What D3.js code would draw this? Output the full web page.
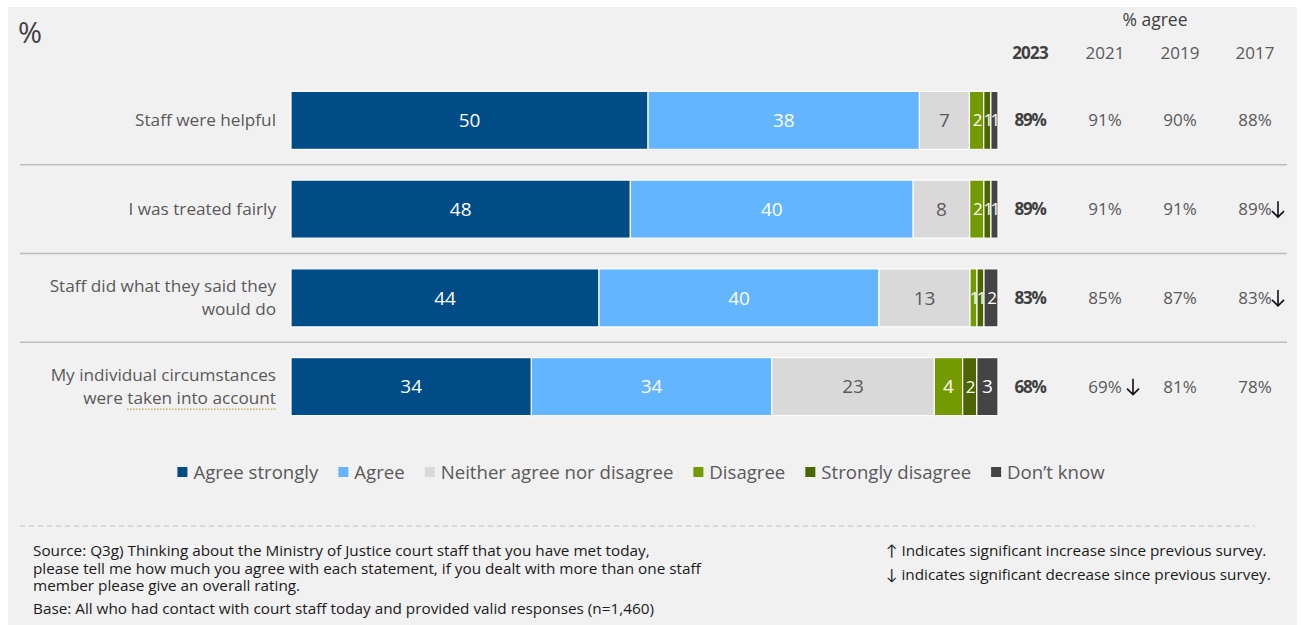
<!DOCTYPE html>
<html>
<head>
<meta charset="utf-8">
<script src="https://cdn.jsdelivr.net/npm/d3@7"></script>
<style>
  html, body { margin: 0; padding: 0; background: #ffffff; }
  svg { display: block; font-family: "Open Sans", Lato, sans-serif; }
</style>
</head>
<body>
<svg id="chart" width="1302" height="625"></svg>
<script>
// Statements and response shares (%)
const categories = [
  "Staff were helpful",
  "I was treated fairly",
  "Staff did what they said they would do",
  "My individual circumstances were taken into account"
];
const categoryLines = [
  ["Staff were helpful"],
  ["I was treated fairly"],
  ["Staff did what they said they", "would do"],
  ["My individual circumstances", "were taken into account"]
];
const seriesNames = ["Agree strongly", "Agree", "Neither agree nor disagree", "Disagree", "Strongly disagree", "Don\u2019t know"];
const agreeStrongly    = [50, 48, 44, 34];
const agree            = [38, 40, 40, 34];
const neither          = [7, 8, 13, 23];
const disagree         = [2, 2, 1, 4];
const stronglyDisagree = [1, 1, 1, 2];
const dontKnow         = [1, 1, 2, 3];

// % agree by survey year
const years = ["2023", "2021", "2019", "2017"];
const agree2023 = [89, 89, 83, 68];
const agree2021 = [91, 91, 85, 69];
const agree2019 = [90, 91, 87, 81];
const agree2017 = [88, 89, 83, 78];
// significance vs previous survey: "down", "up" or ""
const sig2021 = ["", "", "", "down"];
const sig2019 = ["", "", "", ""];
const sig2017 = ["", "down", "down", ""];

const colors = ["#004c87", "#63b5ff", "#d9d9d9", "#739b00", "#4b6500", "#444444"];
const labelColors = ["#ffffff", "#ffffff", "#595959", "#ffffff", "#ffffff", "#ffffff"];

const svg = d3.select("#chart");

// panel background
svg.append("rect").attr("x", 8).attr("y", 7).attr("width", 1289).attr("height", 618).attr("fill", "#f1f1f1");

svg.append("text").attr("x", 18).attr("y", 43).attr("font-size", 29).attr("fill", "#404040")
  .text("%");

const rows = categories.map((c, i) => ({
  category: c,
  [seriesNames[0]]: agreeStrongly[i],
  [seriesNames[1]]: agree[i],
  [seriesNames[2]]: neither[i],
  [seriesNames[3]]: disagree[i],
  [seriesNames[4]]: stronglyDisagree[i],
  [seriesNames[5]]: dontKnow[i]
}));

const stacked = d3.stack().keys(seriesNames).offset(d3.stackOffsetExpand)(rows);

const x = d3.scaleLinear().domain([0, 1]).range([291, 998]);
const y = d3.scaleBand().domain(categories).range([76, 431]).paddingInner(0.346).paddingOuter(0.173);
const color = d3.scaleOrdinal().domain(seriesNames).range(colors);

// row separators
categories.slice(0, -1).forEach(c => {
  const yy = y(c) + y.bandwidth() + (y.step() - y.bandwidth()) / 2;
  svg.append("line").attr("x1", 20).attr("x2", 1287).attr("y1", yy).attr("y2", yy)
    .attr("stroke", "#bdbdbd").attr("stroke-width", 1.5);
});

// stacked bars
const layer = svg.append("g").selectAll("g").data(stacked).join("g")
  .attr("fill", d => color(d.key));
layer.selectAll("rect").data(d => d.map(p => ({ p, key: d.key }))).join("rect")
  .attr("x", d => x(d.p[0]))
  .attr("y", d => y(d.p.data.category))
  .attr("width", d => x(d.p[1]) - x(d.p[0]))
  .attr("height", y.bandwidth())
  .attr("stroke", "#ffffff").attr("stroke-width", 1.2);

// value labels in segments
stacked.forEach((s, si) => {
  svg.append("g").selectAll("text").data(s).join("text")
    .attr("x", d => (x(d[0]) + x(d[1])) / 2)
    .attr("y", d => y(d.data.category) + y.bandwidth() / 2)
    .attr("dy", "0.35em")
    .attr("text-anchor", "middle")
    .attr("font-size", d => (d.data[s.key] <= 2 ? 17 : 19))
    .attr("letter-spacing", d => (d.data[s.key] <= 2 ? -2 : 0))
    .attr("fill", labelColors[si])
    .text(d => d.data[s.key]);
});

// category labels
categoryLines.forEach((lines, i) => {
  const cy = y(categories[i]) + y.bandwidth() / 2;
  const t = svg.append("text").attr("text-anchor", "end").attr("font-size", 17.2).attr("fill", "#595959");
  lines.forEach((ln, li) => {
    t.append("tspan").attr("x", 276)
      .attr("y", cy + (li - (lines.length - 1) / 2) * 23)
      .attr("dy", "0.35em").text(ln);
  });
});
// proofing underline beneath "taken into account"
{
  const cy = y(categories[3]) + y.bandwidth() / 2 + 11.5;
  svg.append("line").attr("x1", 127).attr("x2", 276).attr("y1", cy + 11).attr("y2", cy + 11)
    .attr("stroke", "#c9a04a").attr("stroke-width", 1.3).attr("stroke-dasharray", "1.5,1.5");
}

// % agree columns
const colX = d3.scalePoint().domain(years).range([1030, 1255]);
const yearValues = [agree2023, agree2021, agree2019, agree2017];
const yearSig = [null, sig2021, sig2019, sig2017];

svg.append("text").attr("x", 1155).attr("y", 20).attr("dy", "0.35em").attr("text-anchor", "middle")
  .attr("font-size", 17.5).attr("fill", "#404040").text("% agree");

years.forEach((yr, yi) => {
  svg.append("text").attr("x", colX(yr)).attr("y", 53).attr("dy", "0.35em").attr("text-anchor", "middle")
    .attr("font-size", 17).attr("font-weight", yi === 0 ? "bold" : "normal")
    .attr("letter-spacing", yi === 0 ? -0.8 : 0)
    .attr("fill", yi === 0 ? "#404040" : "#595959").text(yr);
  yearValues[yi].forEach((v, ci) => {
    const cy = y(categories[ci]) + y.bandwidth() / 2;
    svg.append("text").attr("x", colX(yr)).attr("y", cy).attr("dy", "0.35em").attr("text-anchor", "middle")
      .attr("font-size", 17).attr("font-weight", yi === 0 ? "bold" : "normal")
      .attr("letter-spacing", yi === 0 ? -1.2 : 0)
      .attr("fill", yi === 0 ? "#404040" : "#595959").text(v + "%");
    const sig = yearSig[yi] && yearSig[yi][ci];
    if (sig) {
      // thin arrow drawn as a path
      const ax = colX(yr) + (yi === 1 ? 28 : 23);
      const dir = sig === "down" ? 1 : -1;
      const top = cy - 8 * dir, tip = cy + 8 * dir;
      svg.append("path")
        .attr("d", `M${ax},${top}L${ax},${tip}M${ax - 6},${tip - 6 * dir}L${ax},${tip}L${ax + 6},${tip - 6 * dir}`)
        .attr("fill", "none").attr("stroke", "#111").attr("stroke-width", 1.6);
    }
  });
});

// legend
const legend = svg.append("g");
let lx = 0;
seriesNames.forEach((name, i) => {
  const g = legend.append("g").attr("transform", `translate(${lx},0)`);
  g.append("rect").attr("x", 0).attr("y", -5).attr("width", 10).attr("height", 10).attr("fill", colors[i]);
  const t = g.append("text").attr("x", 16).attr("y", 0).attr("dy", "0.35em")
    .attr("font-size", 18.6).attr("fill", "#595959").text(name);
  lx += 16 + t.node().getComputedTextLength() + 20;
});
lx -= 20;
legend.attr("transform", `translate(${641 - lx / 2},472)`);

// footer divider
svg.append("line").attr("x1", 20).attr("x2", 1255).attr("y1", 526).attr("y2", 526)
  .attr("stroke", "#c4c4c4").attr("stroke-width", 1).attr("stroke-dasharray", "5,4");

const sourceLines = [
  ["Source: Q3g) Thinking about the Ministry of Justice court staff that you have met today,", 551],
  ["please tell me how much you agree with each statement, if you dealt with more than one staff", 569],
  ["member please give an overall rating.", 586],
  ["Base: All who had contact with court staff today and provided valid responses (n=1,460)", 609]
];
sourceLines.forEach(([txt, yy]) => {
  svg.append("text").attr("x", 33).attr("y", yy).attr("dy", "0.35em")
    .attr("font-size", 15.3).attr("fill", "#1a1a1a").text(txt);
});
const noteLines = [
  ["\u2191 Indicates significant increase since previous survey.", 551],
  ["\u2193 indicates significant decrease since previous survey.", 575]
];
noteLines.forEach(([txt, yy]) => {
  svg.append("text").attr("x", 886).attr("y", yy).attr("dy", "0.35em")
    .attr("font-size", 15.3).attr("fill", "#1a1a1a").text(txt);
});
</script>
</body>
</html>
